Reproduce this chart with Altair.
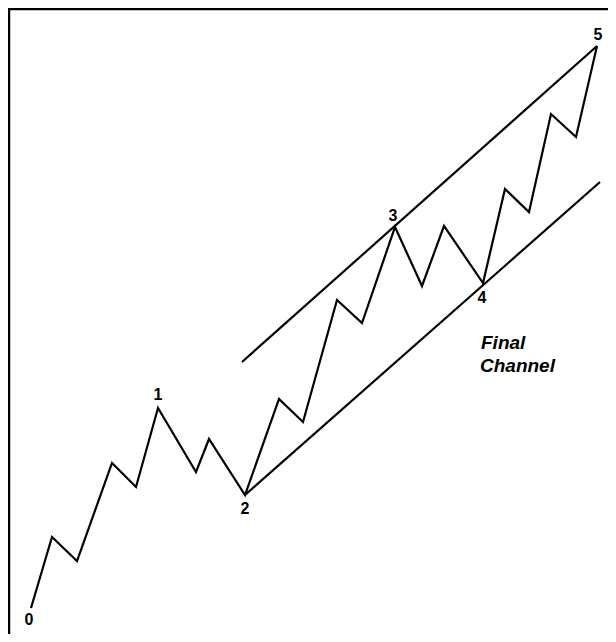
import altair as alt
import pandas as pd

# Wave path (time units, price units)
wave_x = [31, 52, 77, 112, 136, 158, 196, 209, 245, 279, 303, 337, 362, 395, 422, 444, 483, 505, 529, 551, 576, 597]
wave_y = [34, 105, 81, 179, 155, 234, 170, 203, 147, 243, 220, 342, 319, 415, 356, 416, 359, 453, 430, 528, 505, 596]

# Channel lines
upper_x = [242, 597]
upper_y = [280, 596]
lower_x = [245, 600]
lower_y = [147, 460]

# Wave labels
label_text = ["0", "1", "2", "3", "4", "5"]
label_x = [29, 158, 245, 393, 482, 598]
label_y = [22, 247, 133, 426, 344, 607]

# Annotation
note_text = ["Final", "Channel"]
note_x = [481, 480]
note_y = [299, 276]

# Frame (top and left edges)
frame_top_x = [8, 616]
frame_top_y = [633, 633]
frame_left_x = [9, 9]
frame_left_y = [0, 633]

X = alt.Scale(domain=[8, 608], nice=False, zero=False)
Y = alt.Scale(domain=[8, 634], nice=False, zero=False)

wave_df = pd.DataFrame({"x": wave_x, "y": wave_y, "i": range(len(wave_x))})
chan_df = pd.DataFrame({
    "x": upper_x + lower_x,
    "y": upper_y + lower_y,
    "line": ["upper"] * 2 + ["lower"] * 2,
    "i": [0, 1, 0, 1],
})
lab_df = pd.DataFrame({"t": label_text, "x": label_x, "y": label_y})
note_df = pd.DataFrame({"t": note_text, "x": note_x, "y": note_y})
frame_df = pd.DataFrame({
    "x": frame_top_x + frame_left_x,
    "y": frame_top_y + frame_left_y,
    "side": ["top"] * 2 + ["left"] * 2,
    "i": [0, 1, 0, 1],
})

enc_x = alt.X("x:Q", scale=X, axis=None)
enc_y = alt.Y("y:Q", scale=Y, axis=None)

wave = alt.Chart(wave_df).mark_line(color="black", strokeWidth=2.2, strokeJoin="miter").encode(
    x=enc_x, y=enc_y, order="i:O"
)
chan = alt.Chart(chan_df).mark_line(color="black", strokeWidth=2.2).encode(
    x=enc_x, y=enc_y, detail="line:N", order="i:O"
)
frame = alt.Chart(frame_df).mark_line(color="black", strokeWidth=2.5, clip=False).encode(
    x=enc_x, y=enc_y, detail="side:N", order="i:O"
)
labels = alt.Chart(lab_df).mark_text(
    font="Liberation Sans", fontWeight="bold", fontSize=16, color="black", baseline="middle", align="center"
).encode(x=enc_x, y=enc_y, text="t:N")
note = alt.Chart(note_df).mark_text(
    font="Liberation Sans", fontStyle="italic", fontWeight="bold", fontSize=19, color="black",
    baseline="middle", align="left", dx=0
).encode(x=enc_x, y=enc_y, text="t:N")

chart = alt.layer(frame, chan, wave, labels, note).properties(
    width=600, height=626, padding=0,
    autosize=alt.AutoSizeParams(type="none"),
    background="white",
).configure_view(stroke=None)

chart.save("out.html", embed_options={"renderer": "svg", "actions": False})
